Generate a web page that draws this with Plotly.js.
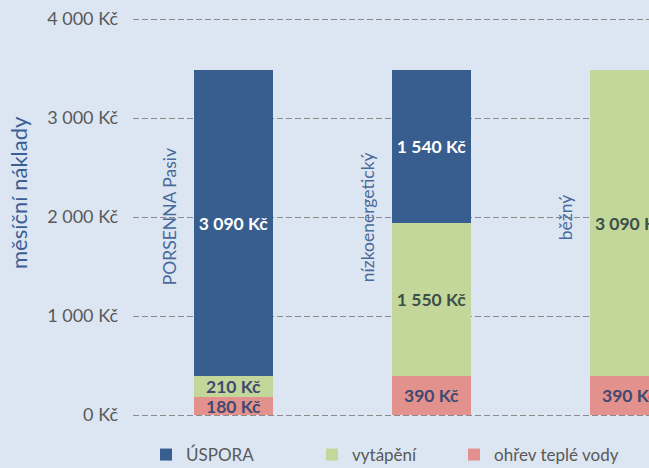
<!DOCTYPE html>
<html>
<head>
<meta charset="utf-8">
<script src="https://cdn.plot.ly/plotly-3.0.1.min.js"></script>
<style>html,body{margin:0;padding:0;background:#DCE6F2;}#chart{width:649px;height:468px;}</style>
</head>
<body>
<div id="chart"></div>
<script>
const categories = ["PORSENNA Pasiv", "nízkoenergetický", "běžný"];
const uspora = [3090, 1540, 0];
const vytapeni = [210, 1550, 3090];
const ohrev = [180, 390, 390];
const seriesNames = ["ÚSPORA", "vytápění", "ohřev teplé vody"];
const yTicks = [0, 1000, 2000, 3000, 4000];
const yAxisTitle = "měsíční náklady";

function fmt(v) {
  return String(v).replace(/\B(?=(\d{3})+(?!\d))/g, " ") + " Kč";
}
function labels(arr) { return arr.map(v => v > 0 ? fmt(v) : ""); }

const FONT = "Lato, 'Open Sans', sans-serif";
const idx = categories.map((c, i) => i);

const traces = [
  {
    type: "bar", name: seriesNames[2], x: idx, y: ohrev, legend: "legend2",
    marker: {color: "#E3918D"}, width: 0.4,
    text: labels(ohrev), textposition: "inside", insidetextanchor: "middle",
    constraintext: "none", cliponaxis: true,
    textfont: {family: FONT, size: 17.5, color: "#3F4A72", weight: "bold"},
    hoverinfo: "skip"
  },
  {
    type: "bar", name: seriesNames[1], x: idx, y: vytapeni, legend: "legend",
    marker: {color: "#C4D79B"}, width: 0.4,
    text: labels(vytapeni), textposition: "inside", insidetextanchor: "middle",
    constraintext: "none", cliponaxis: true,
    textfont: {family: FONT, size: 17.5, color: ["#3F4A72", "#3B5048", "#3B5048"], weight: "bold"},
    hoverinfo: "skip"
  },
  {
    type: "bar", name: seriesNames[0], x: idx, y: uspora, legend: "legend",
    marker: {color: "#385D8F"}, width: 0.4,
    text: labels(uspora), textposition: "inside", insidetextanchor: "middle",
    constraintext: "none", cliponaxis: true,
    textfont: {family: FONT, size: 17.5, color: "#FFFFFF", weight: "bold"},
    hoverinfo: "skip"
  }
];

// plot area: 0 Kč at y=415px, 4000 Kč at y=19px (99 px per 1000), padded 2px each side
const PAD = 2 / 0.099;
const annotations = categories.map((c, i) => ({
  x: i - 0.325, y: 2000, xref: "x", yref: "y",
  text: c, textangle: -90, showarrow: false, xanchor: "center", yanchor: "middle",
  font: {family: FONT, size: 17.5, color: "#4A6A9A"}
}));
annotations.push({
  xref: "paper", yref: "paper", x: (19 - 133) / 516, y: (417 - 193) / 400,
  xanchor: "center", yanchor: "middle",
  text: yAxisTitle, textangle: -90, showarrow: false,
  font: {family: FONT, size: 22, color: "#3B5F95"}
});

const legendCommon = {
  orientation: "h", xanchor: "left",
  y: -(455 - 417) / 400, yanchor: "middle",
  font: {family: FONT, size: 17, color: "#595959"}, bgcolor: "rgba(0,0,0,0)"
};

const layout = {
  width: 649, height: 468,
  paper_bgcolor: "#DCE6F2", plot_bgcolor: "#DCE6F2",
  margin: {l: 133, r: 0, t: 17, b: 51, autoexpand: false},
  barmode: "stack",
  showlegend: true,
  legend: Object.assign({}, legendCommon, {
    x: (146 - 133) / 516, traceorder: "reversed",
    entrywidth: 121, entrywidthmode: "pixels"
  }),
  legend2: Object.assign({}, legendCommon, {
    x: (454 - 133) / 516
  }),
  xaxis: {
    type: "linear", range: [-0.508, 2.098], showticklabels: false,
    showgrid: false, zeroline: false, showline: false, ticks: ""
  },
  yaxis: {
    range: [-PAD, 4000 + PAD], tickvals: yTicks, ticktext: yTicks.map(fmt),
    showgrid: true, gridcolor: "#8C8C8C", gridwidth: 1, griddash: "6px,3px",
    zeroline: false, showline: false, ticks: "", ticklabelstandoff: 14,
    tickfont: {family: FONT, size: 18, color: "#595959"}
  },
  annotations: annotations
};

Plotly.newPlot("chart", traces, layout, {displayModeBar: false, staticPlot: true});
</script>
</body>
</html>
